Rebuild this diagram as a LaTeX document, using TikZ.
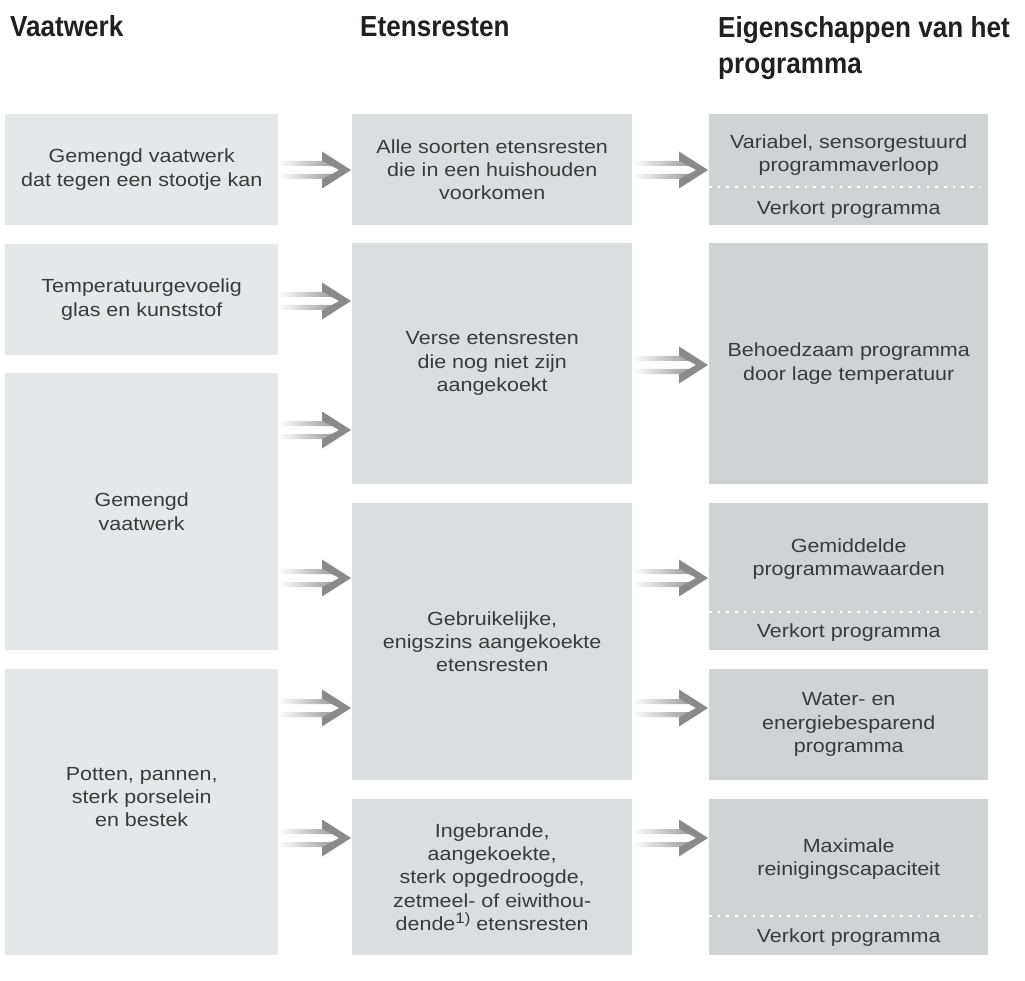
\documentclass[tikz,border=0pt]{standalone}
\usepackage{fontspec}
\setmainfont{Liberation Sans}
\newfontfamily\lichtfont{Liberation Sans}[FakeStretch=1.13]
\newfontfamily\kopletter{Liberation Sans}[FakeStretch=0.9]
\usetikzlibrary{calc}
\definecolor{vak1}{HTML}{E6E7E8}
\definecolor{vak2}{HTML}{DCDDDE}
\definecolor{vak3}{HTML}{D1D2D4}
\definecolor{pijlgrijs}{HTML}{8A8A8A}
\definecolor{tekstgrijs}{HTML}{3A3A3A}
\definecolor{kopzwart}{HTML}{231F20}
\newcommand\tekstfont{\lichtfont\fontsize{19}{23.3}\selectfont}
\newcommand\kopfont{\kopletter\fontsize{29}{36}\selectfont\bfseries}
\newcommand\voetnoot[1]{\raisebox{0.7ex}{\fontsize{15}{15}\selectfont #1}}
% dubbele pijl van vak #1 naar vak #2 op hoogte #3
\newcommand\pijl[3]{%
  \begin{scope}[shift={(#1.east |- 0,#3)}]
    \path[left color=white,right color=pijlgrijs!90] let \p1=($(#2.west)-(#1.east)$) in
      (0pt,4pt) rectangle ({\x1-16pt},9pt)
      (0pt,-4pt) rectangle ({\x1-16pt},-9pt);
    \fill[pijlgrijs] let \p1=($(#2.west)-(#1.east)$) in
      ({\x1-30pt},18.5pt) -- ({\x1-1pt},0pt) -- ({\x1-30pt},-18.5pt)
      -- ({\x1-30pt},-9.5pt) -- ({\x1-13pt},0pt) -- ({\x1-30pt},9.5pt) -- cycle;
  \end{scope}}

\begin{document}
\begin{tikzpicture}[x=1pt,y=-1pt,
   vak/.style={anchor=north west,inner sep=0pt,align=center,font=\tekstfont,text=tekstgrijs},
   kol1/.style={vak,fill=vak1,minimum width=273pt},
   kol2/.style={vak,fill=vak2,minimum width=280pt},
   kol3/.style={vak,fill=vak3,minimum width=279pt},
   tekst/.style={inner sep=0pt,align=center,font=\tekstfont,text=tekstgrijs},
   kop/.style={inner sep=0pt,align=left,font=\kopfont,text=kopzwart},
   stippel/.style={white,line width=2.6pt,dash pattern=on 2.6pt off 6.1pt}]
  \useasboundingbox (0,0) rectangle (1025,981);

  % koppen
  \node[kop,anchor=base west] (k1) at (10,37) {Vaatwerk};
  \node[kop,anchor=base west] (k2) at (360,37) {Etensresten};
  \node[kop,anchor=north west] (k3) at (718,16) {Eigenschappen van het\\programma};

  % vaatwerk
  \node[kol1,minimum height=111pt] (A) at (5,114) {Gemengd vaatwerk\\dat tegen een stootje kan};
  \node[kol1,minimum height=111pt] (B) at (5,244) {Temperatuurgevoelig\\glas en kunststof};
  \node[kol1,minimum height=277pt] (C) at (5,373) {Gemengd\\vaatwerk};
  \node[kol1,minimum height=286pt] (D) at (5,669) {};
  \node[tekst] (Dt) at (D.center |- 0,797) {Potten, pannen,\\sterk porselein\\en bestek};

  % etensresten
  \node[kol2,minimum height=111pt] (E) at (352,114) {Alle soorten etensresten\\die in een huishouden\\voorkomen};
  \node[kol2,minimum height=241pt] (F) at (352,243) {Verse etensresten\\die nog niet zijn\\aangekoekt};
  \node[kol2,minimum height=277pt] (G) at (352,503) {Gebruikelijke,\\enigszins aangekoekte\\etensresten};
  \node[kol2,minimum height=156pt] (H) at (352,799) {Ingebrande,\\aangekoekte,\\sterk opgedroogde,\\zetmeel- of eiwithou-\\dende\voetnoot{1)} etensresten};

  % programma
  \node[kol3,minimum height=111pt] (I) at (709,114) {};
  \node[tekst] (I1) at (I.center |- 0,155) {Variabel, sensorgestuurd\\programmaverloop};
  \node[tekst] (I2) at (I.center |- 0,210) {Verkort programma};
  \draw[stippel] (I.west |- 0,187) -- ($(I.east |- 0,187)+(-9,0)$);
  \node[kol3,minimum height=241pt] (J) at (709,243) {Behoedzaam programma\\door lage temperatuur};
  \node[kol3,minimum height=147pt] (K) at (709,503) {};
  \node[tekst] (K1) at (K.center |- 0,559) {Gemiddelde\\programmawaarden};
  \node[tekst] (K2) at (K.center |- 0,633) {Verkort programma};
  \draw[stippel] (K.west |- 0,612) -- ($(K.east |- 0,612)+(-9,0)$);
  \node[kol3,minimum height=111pt] (L) at (709,669) {Water- en\\energiebesparend\\programma};
  \node[kol3,minimum height=156pt] (M) at (709,799) {};
  \node[tekst] (M1) at (M.center |- 0,859) {Maximale\\reinigingscapaciteit};
  \node[tekst] (M2) at (M.center |- 0,938) {Verkort programma};
  \draw[stippel] (M.west |- 0,916) -- ($(M.east |- 0,916)+(-9,0)$);

  % pijlen
  \pijl{A}{E}{170}
  \pijl{B}{F}{301}
  \pijl{C}{F}{430}
  \pijl{C}{G}{578}
  \pijl{D}{G}{708}
  \pijl{D}{H}{838}
  \pijl{E}{I}{170}
  \pijl{F}{J}{365}
  \pijl{G}{K}{578}
  \pijl{G}{L}{708}
  \pijl{H}{M}{838}
\end{tikzpicture}
\end{document}
